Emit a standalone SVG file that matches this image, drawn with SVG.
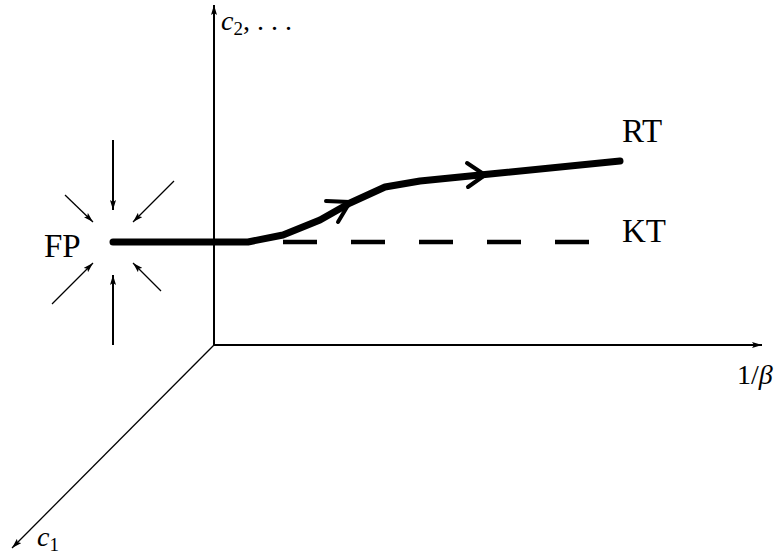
<svg xmlns="http://www.w3.org/2000/svg" width="776" height="559" viewBox="0 0 776 559">
<defs>
<marker id="ah" viewBox="0 0 10 6" refX="10" refY="3" markerWidth="10" markerHeight="6" markerUnits="userSpaceOnUse" orient="auto">
<path d="M0,0 L10,3 L0,6 L2,3 Z" fill="#000"/>
</marker>
</defs>
<style>
.lbl{font-family:"Liberation Serif","DejaVu Serif",serif;font-size:33px;fill:#000}
.math{font-family:"Liberation Serif","DejaVu Serif",serif;font-size:28px;fill:#000}
.ax{stroke:#000;stroke-width:2;fill:none}
.thin{stroke:#000;stroke-width:1.3;fill:none}
</style>
<rect width="776" height="559" fill="#fff"/>
<g id="connectors">
<line class="ax" x1="214" y1="346" x2="214" y2="5" marker-end="url(#ah)"/>
<line class="ax" x1="213" y1="345" x2="762" y2="345" marker-end="url(#ah)"/>
<line class="thin" x1="214" y1="345" x2="12" y2="548" marker-end="url(#ah)"/>
<line class="ax" x1="113" y1="140" x2="113" y2="210" marker-end="url(#ah)"/>
<line class="ax" x1="113" y1="345" x2="113" y2="275" marker-end="url(#ah)"/>
<line class="thin" x1="65" y1="195" x2="93" y2="222" marker-end="url(#ah)"/>
<line class="thin" x1="174" y1="181" x2="133" y2="222" marker-end="url(#ah)"/>
<line class="thin" x1="52" y1="304" x2="93" y2="263" marker-end="url(#ah)"/>
<line class="thin" x1="161" y1="291" x2="133" y2="263" marker-end="url(#ah)"/>
<path d="M113,242 L248,242 L283,235 L320,220 L350,203 L385,187 L420,181 L460,177 L490,174 L620,161" stroke="#000" stroke-width="7" fill="none" stroke-linecap="round" stroke-linejoin="round"/>
<path d="M326,201 L350,202 L338,222" stroke="#000" stroke-width="4" fill="none" stroke-linecap="round" stroke-linejoin="round"/>
<path d="M467,163 L485,175 L468,187" stroke="#000" stroke-width="4" fill="none" stroke-linecap="round" stroke-linejoin="round"/>
<line x1="283" y1="242" x2="589" y2="242" stroke="#000" stroke-width="4.5" stroke-dasharray="34 34"/>
</g>
<g id="FP"><text class="lbl" x="44" y="257">FP</text></g>
<g id="RT"><text class="lbl" x="622" y="142">RT</text></g>
<g id="KT"><text class="lbl" x="622" y="242">KT</text></g>
<g id="c2"><text class="math" x="221" y="30"><tspan font-style="italic">c</tspan><tspan font-size="19" dy="5">2</tspan><tspan dy="-5">, . . .</tspan></text></g>
<g id="beta"><text class="math" x="737" y="384">1/<tspan font-style="italic">β</tspan></text></g>
<g id="c1"><text class="math" x="37" y="546"><tspan font-style="italic">c</tspan><tspan font-size="19" dy="5">1</tspan></text></g>
</svg>
